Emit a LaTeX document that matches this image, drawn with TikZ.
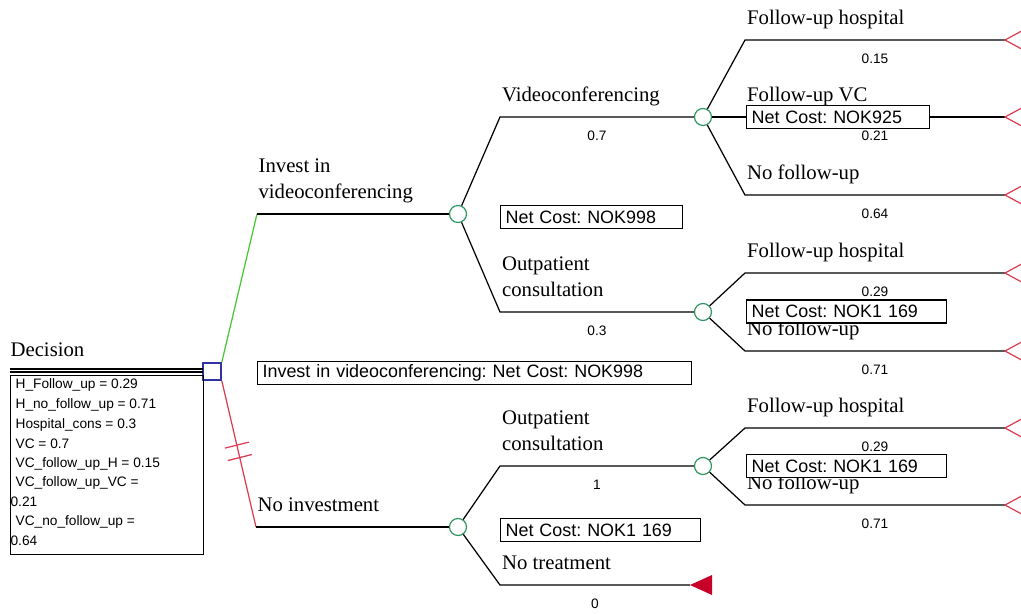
\documentclass[tikz,border=0pt]{standalone}
\usepackage{fontspec}
\setmainfont{Liberation Serif}
\setsansfont{Liberation Sans}
\frenchspacing
\usetikzlibrary{calc}
\definecolor{termred}{RGB}{220,60,80}
\definecolor{deadred}{RGB}{200,0,40}
\definecolor{chgreen}{RGB}{50,150,100}
\definecolor{decblue}{RGB}{50,50,160}
\definecolor{invgreen}{RGB}{70,200,50}
\tikzset{
  chance/.style={draw=chgreen, circle, fill=white, minimum size=0.34cm, inner sep=0pt},
  lbl/.style={font=\fontsize{11.8}{14.7}\selectfont, anchor=south west, inner sep=0pt, align=left, execute at end node=\strut},
  br/.style={lbl, pos=0, xshift=0.3mm, yshift=1.5mm},
  prob/.style={font=\sffamily\fontsize{7.8}{9}\selectfont, anchor=base, inner sep=0pt, midway, yshift=-4.6mm},
  costbox/.style={draw, fill=white, anchor=west, font=\sffamily\fontsize{10.2}{12}\selectfont, inner xsep=0.1cm, inner ysep=0pt, minimum height=0.46cm, align=left},
  panel/.style={font=\sffamily\fontsize{7.8}{9}\selectfont, anchor=base west, inner sep=0pt},
}
\begin{document}
\begin{tikzpicture}[x=0.02cm, y=-0.02cm, line width=0.7pt]
\useasboundingbox (0,0) rectangle (1021,613);
\clip (0,0) rectangle (1021,613);

% decision node and its variables
\node[draw=decblue, fill=white, line width=0.9pt, minimum width=0.36cm, minimum height=0.34cm, inner sep=0pt] (dec) at (212,371.5) {};
\node[lbl] (dlbl) at (10,365) {Decision};
\draw (10,369) -- (203,369);
\draw (10,372) -- (203,372);
\node[draw, anchor=north west, minimum width=3.86cm, minimum height=3.58cm, inner sep=0pt] (vars) at (10,375) {};
\foreach \i/\x/\y/\txt in {1/15/388/H\_Follow\_up = 0.29, 2/15/408/H\_no\_follow\_up = 0.71,
  3/15/428/Hospital\_cons = 0.3, 4/15/448/VC = 0.7, 5/15/467/VC\_follow\_up\_H = 0.15,
  6/15/486/VC\_follow\_up\_VC =, 7/10/506/0.21, 8/15/525/VC\_no\_follow\_up =, 9/10/545/0.64}
  \node[panel] (v\i) at (\x,\y) {\txt};

% chance nodes and bends
\foreach \n/\x/\y in {c1/458/214, c2/703/117, c3/703/312, c4/458/527, c5/703/466}
  \node[chance] (\n) at (\x,\y) {};
\foreach \n/\x/\y in {bInv/257/214, bNo/256/527, bVC/500/117, bOP/500/312, bOP2/500/466, bNT/500/585,
  b21/745/40, b22/745/117, b23/745/195, b31/745/273, b32/745/351, b51/745/428, b52/745/505}
  \coordinate (\n) at (\x,\y);
\foreach \n/\y in {t21/40, t22/117, t23/195, t31/273, t32/351, t51/428, t52/505}
  \coordinate (\n) at (1005,\y);
\coordinate (tNT) at (690,585);

% decision branches
\draw[invgreen] (dec.north east) -- (bInv);
\draw (bInv) -- node[br, xshift=-0.1mm]{Invest in\\videoconferencing} (c1);
\draw[termred] (dec.south east) -- coordinate[pos=0.44] (s1) coordinate[pos=0.525] (s2) (bNo);
\foreach \s in {s1,s2}
  \draw[termred] ($(\s)+(-12,3)$) -- ($(\s)+(12,-3)$);
\draw (bNo) -- node[br, xshift=-0.1mm]{No investment} (c4);

% chance branches
\foreach \u/\b/\v/\txt/\p in {c1/bVC/c2/Videoconferencing/0.7, c1/bOP/c3/{Outpatient\\consultation}/0.3,
  c4/bOP2/c5/{Outpatient\\consultation}/1}
  \draw (\u) -- (\b) -- node[br]{\txt} node[prob]{\p} (\v);
\foreach \u/\b/\t/\txt/\p in {c2/b21/t21/Follow-up hospital/0.15, c2/b22/t22/Follow-up VC/0.21,
  c2/b23/t23/No follow-up/0.64, c3/b31/t31/Follow-up hospital/0.29, c3/b32/t32/No follow-up/0.71,
  c5/b51/t51/Follow-up hospital/0.29, c5/b52/t52/No follow-up/0.71}
{ \draw (\u) -- (\b) -- node[br]{\txt} node[prob]{\p} (\t);
  \draw[termred] (\t) -- ++(24,-13) -- ++(0,26) -- cycle;
}
\draw (c4) -- (bNT) -- node[br]{No treatment} node[prob]{0} (tNT);
\fill[deadred] (tNT) -- ++(22,-10) -- ++(0,20) -- cycle;

% net costs
\node[costbox, text width=8.48cm] (kInv) at (257,373) {Invest in videoconferencing: Net Cost: NOK998};
\node[costbox, text width=3.44cm] (k1) at (500,217) {Net Cost: NOK998};
\node[costbox, text width=3.46cm] (k2) at (746,117) {Net Cost: NOK925};
\node[costbox, text width=3.8cm] (k3) at (746,311.5) {Net Cost: NOK1 169};
\node[costbox, text width=3.8cm] (k4) at (500,530) {Net Cost: NOK1 169};
\node[costbox, text width=3.8cm] (k5) at (746,466) {Net Cost: NOK1 169};
\end{tikzpicture}
\end{document}
